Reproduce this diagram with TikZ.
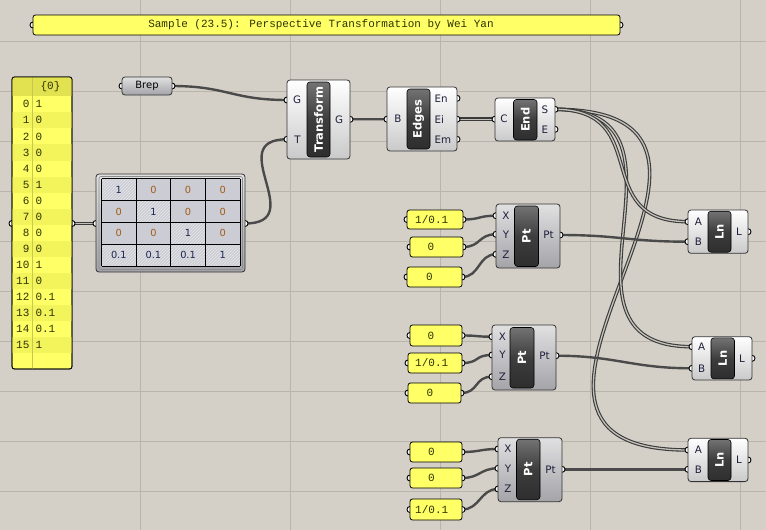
\documentclass[tikz,border=0pt]{standalone}
\usepackage{fontspec}
\setmainfont{DejaVu Sans}
\newfontfamily\monof{Liberation Mono}
\usetikzlibrary{patterns}
\definecolor{bg}{HTML}{D4D0C8}
\definecolor{gridc}{HTML}{B9B5AD}
\definecolor{wirec}{HTML}{4A4A4A}
\definecolor{dwirec}{HTML}{3A3A3A}
\definecolor{dwirein}{HTML}{C4C1BA}
\definecolor{yel}{HTML}{FFFF66}
\definecolor{yeld}{HTML}{F3F35C}
\definecolor{yelh}{HTML}{E2E250}
\definecolor{yeldiv}{HTML}{C8C850}
\definecolor{txtp}{HTML}{2E3300}
\definecolor{lab}{HTML}{1E1E3C}
\definecolor{cellc}{HTML}{CCCCD4}
\definecolor{hatchc}{HTML}{E6E6EC}
\definecolor{zeroc}{HTML}{A35C16}
\definecolor{onec}{HTML}{1C2850}
\tikzset{
  gcomp/.style={draw=black!80, line width=0.8pt, rounded corners=3pt, top color=white, bottom color=black!21, inner sep=0pt, outer sep=0pt, anchor=north west},
  bcomp/.style={draw=black!80, line width=0.8pt, rounded corners=3pt, top color=blue!3!black!12, bottom color=blue!6!black!36, inner sep=0pt, outer sep=0pt, anchor=north west},
  btn/.style={draw=black, line width=0.6pt, rounded corners=3pt, top color=black!55, bottom color=black!82, middle color=black!76, inner sep=0pt, outer sep=0pt, anchor=north west},
  btntxt/.style={text=white, font=\bfseries\fontsize{11.5}{12}\selectfont, rotate=90, inner sep=0pt},
  port/.style={draw=black, fill=white, line width=0.9pt},
  wire/.style={draw=wirec, line width=2.4pt},
  dwire/.style={draw=dwirec, line width=1.1pt, double=dwirein, double distance=1.3pt},
  ypanel/.style={draw=black, line width=0.8pt, fill=yel, rounded corners=2.5pt, anchor=north west, inner sep=0pt, outer sep=0pt},
  ptxt/.style={font=\monof\fontsize{11}{12}\selectfont, text=txtp, inner sep=0pt},
  lbl/.style={font=\fontsize{10.3}{11}\selectfont, text=lab, inner sep=0pt},
  mtxt/.style={font=\fontsize{9.8}{10}\selectfont, inner sep=0pt},
}
\begin{document}
\begin{tikzpicture}[x=1pt,y=-1pt]
\useasboundingbox (0,0) rectangle (766,530);
\fill[bg] (0,0) rectangle (766,530);
% grid
\foreach \gx in {140,290,440,590,740} \draw[gridc, line width=0.9pt] (\gx,0) -- (\gx,530);
\foreach \gy in {41.7,91.7,141.7,191.7,241.7,291.7,341.7,391.7,441.7,491.7} \draw[gridc, line width=0.9pt] (0,\gy) -- (766,\gy);

% ---------- port coordinates
\coordinate (tt-i) at (33,25);   \coordinate (tt-o) at (620,25);
\coordinate (lst-i) at (12,223.5); \coordinate (lst-o) at (72,223.5);
\coordinate (brep-i) at (122,86); \coordinate (brep-o) at (172,86);
\coordinate (mx-i) at (96,223.5); \coordinate (mx-o) at (245,223.5);
\coordinate (tr-gi) at (287,100); \coordinate (tr-ti) at (287,139.3); \coordinate (tr-go) at (350,119.3);
\coordinate (ed-b) at (387,119.2); \coordinate (ed-en) at (457,98.3); \coordinate (ed-ei) at (457,119.2); \coordinate (ed-em) at (457,139.3);
\coordinate (end-c) at (495,119.2); \coordinate (end-s) at (555,109.3); \coordinate (end-e) at (555,129.3);
% Pt1
\coordinate (pt1-x) at (496,215.7); \coordinate (pt1-y) at (496,234.3); \coordinate (pt1-z) at (496,254.3); \coordinate (pt1-o) at (560,235);
\coordinate (p1a-i) at (407,219.5); \coordinate (p1a-o) at (463,219.5);
\coordinate (p1b-i) at (410,247); \coordinate (p1b-o) at (463,247);
\coordinate (p1c-i) at (407,277); \coordinate (p1c-o) at (462,277);
% Pt2
\coordinate (pt2-x) at (492,336.7); \coordinate (pt2-y) at (492,355); \coordinate (pt2-z) at (492,376.7); \coordinate (pt2-o) at (556,355.7);
\coordinate (p2a-i) at (410,335.5); \coordinate (p2a-o) at (462,335.5);
\coordinate (p2b-i) at (408,363); \coordinate (p2b-o) at (462,363);
\coordinate (p2c-i) at (408,393); \coordinate (p2c-o) at (461,393);
% Pt3
\coordinate (pt3-x) at (498,449); \coordinate (pt3-y) at (498,468.3); \coordinate (pt3-z) at (498,489); \coordinate (pt3-o) at (562,469.3);
\coordinate (p3a-i) at (410,452); \coordinate (p3a-o) at (462,452);
\coordinate (p3b-i) at (410,478); \coordinate (p3b-o) at (462,478);
\coordinate (p3c-i) at (410,509.5); \coordinate (p3c-o) at (462,509.5);
% Ln
\coordinate (ln1-a) at (688,221.7); \coordinate (ln1-b) at (688,241.7); \coordinate (ln1-o) at (748,231.7);
\coordinate (ln2-a) at (692,346.7); \coordinate (ln2-b) at (692,368.3); \coordinate (ln2-o) at (752,358.3);
\coordinate (ln3-a) at (688,450); \coordinate (ln3-b) at (688,469.3); \coordinate (ln3-o) at (748,460);

% ---------- wires
\draw[wire] (brep-o) .. controls +(55,0) and +(-55,0) .. (tr-gi);
\draw[wire] (mx-o) .. controls +(65,0) and +(-65,0) .. (tr-ti);
\draw[dwire] (lst-o) -- (mx-i);
\draw[wire] (tr-go) -- (ed-b);
\draw[dwire] (ed-ei) -- (end-c);
\draw[dwire] (end-s) .. controls +(260,0) and +(-260,0) .. (ln3-a);
\draw[dwire] (end-s) .. controls +(160,0) and +(-160,0) .. (ln2-a);
\draw[dwire] (end-s) .. controls +(100,0) and +(-100,0) .. (ln1-a);
\draw[wire] (pt1-o) .. controls +(60,0) and +(-60,0) .. (ln1-b);
\draw[wire] (pt2-o) .. controls +(60,0) and +(-60,0) .. (ln2-b);
\draw[wire] (pt3-o) .. controls +(60,0) and +(-60,0) .. (ln3-b);
\draw[wire] (p1a-o) .. controls +(18,0) and +(-18,0) .. (pt1-x);
\draw[wire] (p1b-o) .. controls +(18,0) and +(-18,0) .. (pt1-y);
\draw[wire] (p1c-o) .. controls +(18,0) and +(-18,0) .. (pt1-z);
\draw[wire] (p2a-o) .. controls +(18,0) and +(-18,0) .. (pt2-x);
\draw[wire] (p2b-o) .. controls +(18,0) and +(-18,0) .. (pt2-y);
\draw[wire] (p2c-o) .. controls +(18,0) and +(-18,0) .. (pt2-z);
\draw[wire] (p3a-o) .. controls +(18,0) and +(-18,0) .. (pt3-x);
\draw[wire] (p3b-o) .. controls +(18,0) and +(-18,0) .. (pt3-y);
\draw[wire] (p3c-o) .. controls +(18,0) and +(-18,0) .. (pt3-z);

% ---------- ports
\foreach \p in {tt-i,tt-o,lst-i,lst-o,brep-i,brep-o,mx-i,mx-o,tr-gi,tr-ti,tr-go,ed-b,ed-en,ed-ei,ed-em,end-c,end-s,end-e,
  pt1-x,pt1-y,pt1-z,pt1-o,p1a-i,p1a-o,p1b-i,p1b-o,p1c-i,p1c-o,
  pt2-x,pt2-y,pt2-z,pt2-o,p2a-i,p2a-o,p2b-i,p2b-o,p2c-i,p2c-o,
  pt3-x,pt3-y,pt3-z,pt3-o,p3a-i,p3a-o,p3b-i,p3b-o,p3c-i,p3c-o,
  ln1-a,ln1-b,ln1-o,ln2-a,ln2-b,ln2-o,ln3-a,ln3-b,ln3-o}
  \draw[port] (\p) circle (3pt);

% ---------- title panel
\node[ypanel, minimum width=587, minimum height=20] (title) at (33,15) {};
\node[ptxt] (titletxt) at (321,25) {Sample (23.5): Perspective Transformation by Wei Yan};

% ---------- list panel
\node[ypanel, minimum width=60, minimum height=292] (lst) at (12,77) {};
\foreach \i in {1,3,...,15} \fill[yeld] (12.4,{96.3+16.05*\i}) rectangle (71.6,{96.3+16.05*(\i+1)});
\fill[yelh, rounded corners=2.5pt] (12,77) rectangle (72,95);
\fill[yelh] (12,88) rectangle (72,95.5);
\draw[yeldiv, line width=0.8pt] (32.3,77) -- (32.3,369);
\draw[black, line width=0.8pt, rounded corners=2.5pt] (12,77) rectangle (72,369);
\node[ptxt] (lsthead) at (50.5,87) {\{0\}};
\foreach \i/\v [count=\k from 0] in {0/1,1/0,2/0,3/0,4/0,5/1,6/0,7/0,8/0,9/0,10/1,11/0,12/0.1,13/0.1,14/0.1,15/1} {
  \node[ptxt, anchor=east] (lsti\k) at (29.6,{104.3+16.05*\i}) {\i};
  \node[ptxt, anchor=west] (lstv\k) at (35.3,{104.3+16.05*\i}) {\v};
}

% ---------- Brep param
\node[bcomp, minimum width=50, minimum height=18] (brep) at (122,77) {};
\node[font=\fontsize{10}{11}\selectfont, text=black, inner sep=0pt] (breptxt) at (147,86) {Brep};

% ---------- Matrix
\node[bcomp, minimum width=149, minimum height=98] (mx) at (96,174) {};
\draw[black!45, line width=0.6pt, rounded corners=2pt] (99,176.5) rectangle (242.5,269.5);
\fill[cellc] (101.5,178.5) rectangle (240,266);
\foreach \r in {0,1,2,3} \foreach \c in {0,1,2,3} {
  \pgfmathtruncatemacro{\hh}{(\r==\c || \r==3) ? 1 : 0}
  \ifnum\hh=1
    \path[pattern=north east lines, pattern color=hatchc] ({101.5+34.625*\c},{178.5+21.875*\r}) rectangle ({101.5+34.625*(\c+1)},{178.5+21.875*(\r+1)});
  \fi
}
\foreach \c in {0,1,2,3,4} \draw[black, line width=0.9pt] ({101.5+34.625*\c},178.5) -- ({101.5+34.625*\c},266);
\foreach \r in {0,1,2,3,4} \draw[black, line width=0.9pt] (101.5,{178.5+21.875*\r}) -- (240,{178.5+21.875*\r});
\foreach \r/\row in {0/{1,0,0,0},1/{0,1,0,0},2/{0,0,1,0},3/{0.1,0.1,0.1,1}} {
  \foreach \v [count=\c from 0] in \row {
    \pgfmathparse{\v==0 ? "zeroc" : "onec"}\edef\tc{\pgfmathresult}
    \node[mtxt, text=\tc] (mx-\r-\c) at ({118.8+34.625*\c},{189.6+21.875*\r}) {\v};
  }
}

% ---------- Transform
\node[gcomp, minimum width=63, minimum height=79] (tr) at (287,80) {};
\node[btn, minimum width=23, minimum height=75] (trbtn) at (307,82) {};
\node[btntxt] (trtxt) at (trbtn.center) {Transform};
\node[lbl] (tr-lg) at (297,100) {G};
\node[lbl] (tr-lt) at (297.5,139.3) {T};
\node[lbl] (tr-lo) at (339,119.3) {G};

% ---------- Edges
\node[gcomp, minimum width=70, minimum height=64] (ed) at (387,87) {};
\node[btn, minimum width=23, minimum height=60] (edbtn) at (407,89) {};
\node[btntxt] (edtxt) at (edbtn.center) {Edges};
\node[lbl] (ed-lb) at (398,119.2) {B};
\node[lbl, anchor=west] (ed-len) at (434.5,98.3) {En};
\node[lbl, anchor=west] (ed-lei) at (434.5,119.2) {Ei};
\node[lbl, anchor=west] (ed-lem) at (434.5,139.3) {Em};

% ---------- End
\node[gcomp, minimum width=60, minimum height=43] (end) at (495,98) {};
\node[btn, minimum width=23.5, minimum height=40.5] (endbtn) at (513.5,99.5) {};
\node[btntxt] (endtxt) at (endbtn.center) {End};
\node[lbl] (end-lc) at (504,119.2) {C};
\node[lbl, anchor=west] (end-ls) at (541.5,109.3) {S};
\node[lbl, anchor=west] (end-le) at (541.5,129.3) {E};

% ---------- Pt 1
\node[bcomp, minimum width=64, minimum height=64] (pt1) at (496,204) {};
\node[btn, minimum width=24, minimum height=60.5] (pt1btn) at (514.5,206) {};
\node[btntxt] (pt1txt) at (pt1btn.center) {Pt};
\node[lbl] (pt1-lx) at (506,215.7) {X};
\node[lbl] (pt1-ly) at (506,234.3) {Y};
\node[lbl] (pt1-lz) at (506,254.3) {Z};
\node[lbl] (pt1-lo) at (548.5,235) {Pt};
\node[ypanel, minimum width=56, minimum height=19] (p1a) at (407,210) {};
\node[ptxt, anchor=west] (p1atxt) at (415,219.5) {1/0.1};
\node[ypanel, minimum width=53, minimum height=20] (p1b) at (410,237) {};
\node[ptxt] (p1btxt) at (431,247) {0};
\node[ypanel, minimum width=55, minimum height=20] (p1c) at (407,267) {};
\node[ptxt] (p1ctxt) at (429.5,277) {0};

% ---------- Pt 2
\node[bcomp, minimum width=64, minimum height=65] (pt2) at (492,325) {};
\node[btn, minimum width=24, minimum height=60.5] (pt2btn) at (510,327.5) {};
\node[btntxt] (pt2txt) at (pt2btn.center) {Pt};
\node[lbl] (pt2-lx) at (502.5,336.7) {X};
\node[lbl] (pt2-ly) at (502.5,355) {Y};
\node[lbl] (pt2-lz) at (502.5,376.7) {Z};
\node[lbl] (pt2-lo) at (544.5,355.7) {Pt};
\node[ypanel, minimum width=52, minimum height=21] (p2a) at (410,325) {};
\node[ptxt] (p2atxt) at (431,335.5) {0};
\node[ypanel, minimum width=54, minimum height=20] (p2b) at (408,353) {};
\node[ptxt, anchor=west] (p2btxt) at (415,363) {1/0.1};
\node[ypanel, minimum width=53, minimum height=20] (p2c) at (408,383) {};
\node[ptxt] (p2ctxt) at (430,393) {0};

% ---------- Pt 3
\node[bcomp, minimum width=64, minimum height=64] (pt3) at (498,437.7) {};
\node[btn, minimum width=23.5, minimum height=60.5] (pt3btn) at (516.5,439.2) {};
\node[btntxt] (pt3txt) at (pt3btn.center) {Pt};
\node[lbl] (pt3-lx) at (508,449) {X};
\node[lbl] (pt3-ly) at (508,468.3) {Y};
\node[lbl] (pt3-lz) at (508,489) {Z};
\node[lbl] (pt3-lo) at (550.5,469.3) {Pt};
\node[ypanel, minimum width=52, minimum height=20] (p3a) at (410,442) {};
\node[ptxt] (p3atxt) at (431.5,452) {0};
\node[ypanel, minimum width=52, minimum height=20] (p3b) at (410,468) {};
\node[ptxt] (p3btxt) at (431.5,478) {0};
\node[ypanel, minimum width=52, minimum height=21] (p3c) at (410,499) {};
\node[ptxt, anchor=west] (p3ctxt) at (415,509.5) {1/0.1};

% ---------- Ln components
\node[gcomp, minimum width=60, minimum height=43.3] (ln1) at (688,210) {};
\node[btn, minimum width=23, minimum height=41] (ln1btn) at (708,211.2) {};
\node[btntxt] (ln1txt) at (ln1btn.center) {Ln};
\node[lbl] (ln1-la) at (698.3,221.7) {A};
\node[lbl] (ln1-lb) at (698.3,241.7) {B};
\node[lbl] (ln1-lo) at (739,231.7) {L};

\node[gcomp, minimum width=60, minimum height=43.3] (ln2) at (692,336.7) {};
\node[btn, minimum width=23.5, minimum height=41] (ln2btn) at (711,337.9) {};
\node[btntxt] (ln2txt) at (ln2btn.center) {Ln};
\node[lbl] (ln2-la) at (701.7,346.7) {A};
\node[lbl] (ln2-lb) at (701.7,368.3) {B};
\node[lbl] (ln2-lo) at (742,358.3) {L};

\node[gcomp, minimum width=60, minimum height=43.3] (ln3) at (688,438.3) {};
\node[btn, minimum width=23, minimum height=41] (ln3btn) at (708,439.5) {};
\node[btntxt] (ln3txt) at (ln3btn.center) {Ln};
\node[lbl] (ln3-la) at (698.3,450) {A};
\node[lbl] (ln3-lb) at (698.3,469.3) {B};
\node[lbl] (ln3-lo) at (739,460) {L};
\end{tikzpicture}
\end{document}
